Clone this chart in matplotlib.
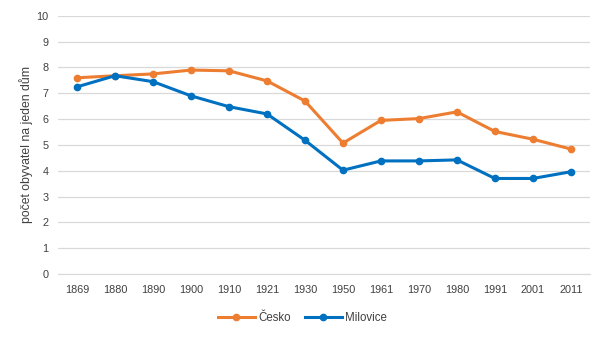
import matplotlib
matplotlib.use("Agg")
import matplotlib.pyplot as plt

years = ["1869", "1880", "1890", "1900", "1910", "1921", "1930", "1950", "1961", "1970", "1980", "1991", "2001", "2011"]
cesko = [7.6, 7.68, 7.75, 7.9, 7.87, 7.48, 6.7, 5.07, 5.95, 6.02, 6.28, 5.52, 5.22, 4.84]
milovice = [7.25, 7.68, 7.45, 6.9, 6.48, 6.2, 5.18, 4.02, 4.38, 4.38, 4.42, 3.7, 3.7, 3.96]

plt.rcParams['font.family'] = ['Liberation Sans', 'DejaVu Sans']

fig = plt.figure(figsize=(6.05, 3.37), dpi=100)
ax = fig.add_axes([0.096, 0.187, 0.879, 0.766])

x = list(range(len(years)))
ax.plot(x, cesko, color="#ED7D31", lw=2.2, marker="o", ms=4.5, label="Česko")
ax.plot(x, milovice, color="#0070C0", lw=2.2, marker="o", ms=4.5, label="Milovice")

ax.set_xlim(-0.5, len(years) - 0.5)
ax.set_ylim(0, 10)
ax.set_yticks(range(0, 11))
ax.set_xticks(x)
ax.set_xticklabels(years)
ax.tick_params(length=0, labelsize=7.8, colors="#404040")
ax.tick_params(axis="x", pad=8)
ax.tick_params(axis="y", pad=7)
ax.grid(axis="y", color="#D9D9D9", lw=0.9)
ax.set_axisbelow(True)
for s in ["top", "right", "left"]:
    ax.spines[s].set_visible(False)
ax.spines["bottom"].set_color("#D9D9D9")
ax.set_ylabel("počet obyvatel na jeden dům", fontsize=8.8, color="#404040", labelpad=2)

fig.legend(loc="center", bbox_to_anchor=(0.5, 0.055), ncol=2, frameon=False,
           fontsize=8.3, handlelength=3.2, columnspacing=1.2, handletextpad=0.3,
           labelcolor="#404040")

fig.savefig("out.png", dpi=100)
